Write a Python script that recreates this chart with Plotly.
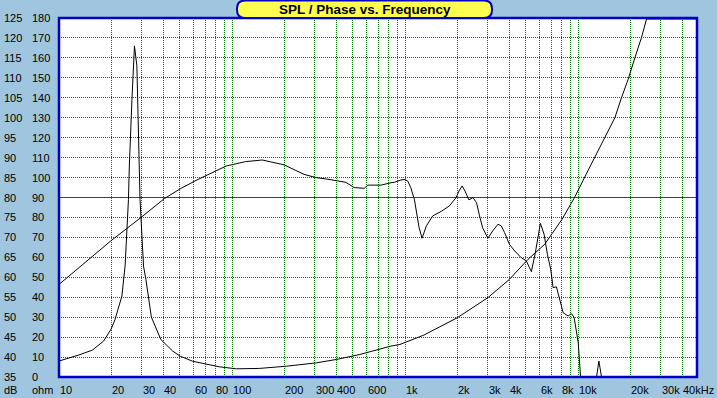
import math
import plotly.graph_objects as go

# ---- data ----
spl_freq = [10, 19.9, 29.8, 40.6, 50.3, 62, 92.6, 120, 149.6, 199.7, 260.8, 305, 356, 425.6,
            455, 508, 581, 610, 726, 830, 867, 948, 1000, 1038, 1080, 1132, 1158, 1207, 1255,
            1330, 1447, 1617, 1806, 1976, 2048, 2140, 2224, 2341, 2469, 2590, 2697, 2810,
            3016, 3210, 3446, 3600, 3765, 4008, 4301, 4700, 5028, 5376, 5670, 6062, 6368,
            6657, 6955, 7180, 7505, 8208, 8770, 9170, 9500, 10030, 10340, 10600, 12500,
            12800, 13200, 13680, 14000, 50000]
spl_db = [58.2, 69.1, 75.0, 79.7, 82.2, 84.3, 87.9, 89.0, 89.4, 88.2, 85.8, 85.0, 84.6, 84.0,
          83.8, 82.5, 82.3, 83.1, 83.1, 83.7, 83.8, 84.4, 84.5, 84.1, 82.5, 79.6, 77.0, 72.4, 69.8,
          72.9, 75.4, 76.5, 77.9, 80.0, 81.6, 82.9, 81.6, 79.4, 80.0, 78.7, 75.4, 72.4,
          69.8, 71.6, 73.3, 72.9, 71.2, 68.3, 66.6, 64.9, 64.1, 61.4, 66.2, 73.5, 70.8,
          65.7, 62.0, 57.4, 57.6, 51.1, 50.3, 50.9, 49.9, 43.6, 35.2, 30.0, 30.0,
          35.0, 39.0, 35.0, 30.0, 30.0]

imp_freq = [10, 13, 15.6, 18.1, 20, 21.1, 23.1, 24.1, 25.2, 25.5, 26.4, 27.3, 28.2, 28.8,
            29.2, 29.4, 30.8, 31.8, 34.2, 38.8, 45.4, 50.3, 59.2, 65.6, 84.7, 105.8, 144,
            206, 308, 402, 549, 830, 934, 1285, 2004, 3016, 4008, 5141, 6416, 8087, 9546,
            11400, 13700, 16350, 17870, 19500, 21350, 23300, 24900, 50000]
imp_ohm = [8.0, 11.0, 13.5, 18.0, 24.0, 28.9, 40.6, 55.6, 89.0, 105.8, 139.0, 166.0, 156.0, 122.6,
           95.8, 89.1, 55.6, 48.9, 30.0, 18.8, 13.0, 10.4, 7.9, 7.1, 5.1, 4.1, 4.3,
           5.4, 7.1, 8.8, 11.3, 15.5, 16.3, 21.0, 29.7, 39.8, 48.9, 59.0, 66.5, 79.1, 90.0,
           103.3, 117.0, 130.1, 140.2, 149.3, 160.2, 170.3, 179.5, 179.5]

grid_freqs = [10, 20, 30, 40, 50, 60, 70, 80, 90,
              100, 200, 300, 400, 500, 600, 700, 800, 900,
              1000, 2000, 3000, 4000, 5000, 6000, 7000, 8000, 9000,
              10000, 20000, 30000, 40000]
x_tick_vals = [10, 20, 30, 40, 60, 80, 100, 200, 300, 400, 600, 1000, 2000, 3000, 4000,
               6000, 8000, 10000, 20000, 30000, 40000]
x_tick_text = ["10", "20", "30", "40", "60", "80", "100", "200", "300", "400", "600", "1k",
               "2k", "3k", "4k", "6k", "8k", "10k", "20k", "30k", "40kHz"]
db_ticks = list(range(35, 130, 5))
ohm_ticks = list(range(0, 190, 10))

TITLE = "SPL / Phase vs. Frequency"

# ---- layout geometry (pixels) ----
W, H = 717, 398
L, R, T, B = 59, 20, 18, 21
PW, PH = W - L - R, H - T - B
BG = "#9FC6DE"
BLUE = "#0000C8"
GRID = "#008000"
FONT = "Liberation Sans, Arial, sans-serif"


def px(xp):
    return (xp - L) / PW


def py(yp):
    return (H - B - yp) / PH


fig = go.Figure()
fig.add_trace(go.Scatter(x=spl_freq, y=spl_db, mode="lines", yaxis="y",
                         line=dict(color="black", width=1), hoverinfo="skip"))
fig.add_trace(go.Scatter(x=imp_freq, y=imp_ohm, mode="lines", yaxis="y2",
                         line=dict(color="black", width=1), hoverinfo="skip"))

xmax = 1 + PW / 173.0
fig.update_layout(
    width=W, height=H, autosize=False,
    margin=dict(l=L, r=R, t=T, b=B, pad=0),
    paper_bgcolor=BG, plot_bgcolor="white", showlegend=False,
    xaxis=dict(type="log", range=[1, xmax], tickvals=grid_freqs, showticklabels=False,
               showgrid=True, gridcolor=GRID, gridwidth=1, griddash="1px,1px",
               zeroline=False, showline=False, ticks="", fixedrange=True),
    yaxis=dict(range=[35, 125], tick0=35, dtick=5, showticklabels=False,
               showgrid=True, gridcolor=GRID, gridwidth=1, griddash="1px,1px",
               zeroline=False, showline=False, ticks="", fixedrange=True),
    yaxis2=dict(range=[0, 180], overlaying="y", side="left", showgrid=False,
                showticklabels=False, zeroline=False, showline=False, ticks="",
                fixedrange=True),
)

shapes = []
# red reference line at 80 dB
shapes.append(dict(type="line", xref="paper", yref="y", x0=0, x1=1, y0=80, y1=80,
                   line=dict(color="#C00000", width=1), layer="between"))
# plot border
shapes.append(dict(type="rect", xref="paper", yref="paper", x0=0, x1=1, y0=0, y1=1,
                   line=dict(color=BLUE, width=2.5), layer="above"))
# title box with rounded ends
x0, x1, y0, y1, r = 237, 492, 0.5, 18, 8
path = (f"M {px(x0 + r)},{py(y0)} L {px(x1 - r)},{py(y0)} "
        f"Q {px(x1)},{py(y0)} {px(x1)},{py(y0 + r)} "
        f"L {px(x1)},{py(y1 - r)} Q {px(x1)},{py(y1)} {px(x1 - r)},{py(y1)} "
        f"L {px(x0 + r)},{py(y1)} Q {px(x0)},{py(y1)} {px(x0)},{py(y1 - r)} "
        f"L {px(x0)},{py(y0 + r)} Q {px(x0)},{py(y0)} {px(x0 + r)},{py(y0)} Z")
shapes.append(dict(type="path", xref="paper", yref="paper", path=path,
                   fillcolor="#FFFF50", line=dict(color=BLUE, width=2), layer="above"))
fig.update_layout(shapes=shapes)

ann = []
ann.append(dict(text=f"<b>{TITLE}</b>", xref="paper", yref="paper", x=px(365), y=py(9.5),
                xanchor="center", yanchor="middle", showarrow=False,
                font=dict(family=FONT, size=13.5, color="black")))
for f, t in zip(x_tick_vals, x_tick_text):
    ann.append(dict(text=t, xref="x", yref="paper", x=math.log10(f), y=py(390),
                    xanchor="left", yanchor="middle", showarrow=False, xshift=-1,
                    font=dict(family=FONT, size=11, color="black")))
for v in db_ticks:
    ann.append(dict(text=str(v), xref="paper", yref="y", x=px(2), y=v,
                    xanchor="left", yanchor="middle", showarrow=False,
                    font=dict(family=FONT, size=11, color="black")))
for v in ohm_ticks:
    ann.append(dict(text=str(v), xref="paper", yref="y2", x=px(30), y=v,
                    xanchor="left", yanchor="middle", showarrow=False,
                    font=dict(family=FONT, size=11, color="black")))
ann.append(dict(text="dB", xref="paper", yref="paper", x=px(2), y=py(390),
                xanchor="left", yanchor="middle", showarrow=False,
                font=dict(family=FONT, size=11, color="black")))
ann.append(dict(text="ohm", xref="paper", yref="paper", x=px(30), y=py(390),
                xanchor="left", yanchor="middle", showarrow=False,
                font=dict(family=FONT, size=11, color="black")))
fig.update_layout(annotations=ann)

fig.write_html("out.html", config={"displayModeBar": False, "staticPlot": True},
               post_script="document.body.style.margin='0';document.body.style.background='" + BG + "';")
